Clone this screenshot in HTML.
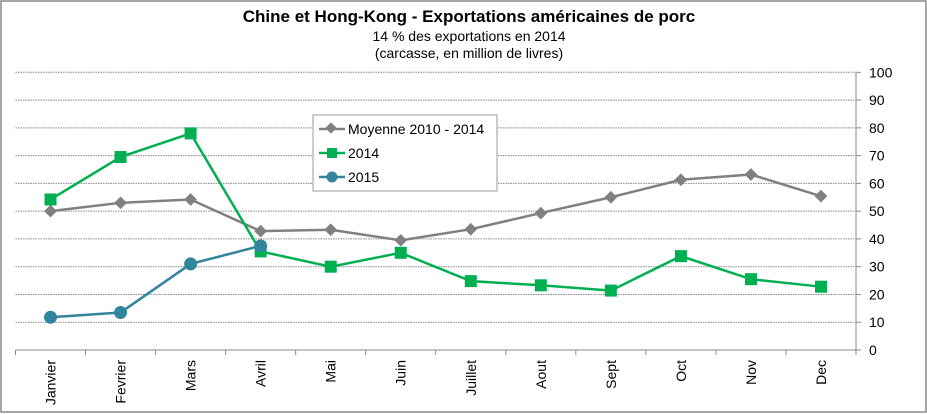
<!DOCTYPE html>
<html><head><meta charset="utf-8"><style>
body{margin:0;background:#fff;}
svg{display:block;font-family:"Liberation Sans",Arial,sans-serif;}
</style></head><body>
<svg id="chart" width="927" height="414" viewBox="0 0 927 414">
<rect x="1" y="1" width="925" height="411" fill="#fff" stroke="#888" stroke-width="1.5"/>
<text x="469" y="22" text-anchor="middle" font-size="17" font-weight="bold">Chine et Hong-Kong - Exportations américaines de porc</text>
<text x="469" y="41" text-anchor="middle" font-size="14">14 % des exportations en 2014</text>
<text x="469" y="58" text-anchor="middle" font-size="14">(carcasse, en million de livres)</text>
<g id="grid"></g><g id="axes"></g><g id="series"></g>
<g>
<rect x="313" y="115" width="184" height="76" fill="#fff" stroke="#999"/>
<line x1="319" y1="129" x2="345" y2="129" stroke="#808080" stroke-width="2.5"/><rect x="327" y="124" width="8" height="8" fill="#808080" transform="rotate(45 331 128)"/>
<text x="348" y="134" font-size="14">Moyenne 2010 - 2014</text>
<line x1="319" y1="153" x2="345" y2="153" stroke="#00b050" stroke-width="2.5"/><rect x="327" y="148" width="10" height="10" fill="#00b050"/>
<text x="348" y="158" font-size="14">2014</text>
<line x1="319" y1="177" x2="345" y2="177" stroke="#31859c" stroke-width="2.5"/><circle cx="332" cy="177" r="5.5" fill="#31859c"/>
<text x="348" y="182" font-size="14">2015</text>
</g>
</svg>
<script>
const categories=["Janvier","Fevrier","Mars","Avril","Mai","Juin","Juillet","Aout","Sept","Oct","Nov","Dec"];
const moyenne=[50,53,54.2,42.8,43.3,39.5,43.5,49.3,55,61.3,63.2,55.4];
const y2014=[54.2,69.5,78,35.5,30,35,24.8,23.3,21.4,33.8,25.5,22.8];
const y2015=[11.8,13.5,31,37.5];
const yTicks=[0,10,20,30,40,50,60,70,80,90,100];
const NS="http://www.w3.org/2000/svg";
const L=15.5,R=856,T=72.3,B=350;
const bw=(R-L)/categories.length;
const x=i=>L+bw*(i+0.5);
const y=v=>B-(v/100)*(B-T);
function mk(tag,attrs,parent){const e=document.createElementNS(NS,tag);for(const k in attrs)e.setAttribute(k,attrs[k]);parent.appendChild(e);return e;}
const grid=document.getElementById('grid'),axes=document.getElementById('axes'),ser=document.getElementById('series');
yTicks.forEach(t=>{
 if(t>0){const g=mk('line',{x1:L,x2:R,y1:y(t),y2:y(t),stroke:'#888','stroke-dasharray':'1.5 1','stroke-width':1},grid);
 
 }
 mk('line',{x1:R,x2:R+5,y1:y(t),y2:y(t),stroke:'#888'},axes);
 const tx=mk('text',{x:R+13,y:y(t)+5,'font-size':14},axes);tx.textContent=t;
 
 
});
mk('line',{x1:R,x2:R,y1:T,y2:B,stroke:'#888'},axes);
mk('line',{x1:L,x2:R,y1:B,y2:B,stroke:'#888'},axes);
for(let i=0;i<=categories.length;i++)mk('line',{x1:L+bw*i,x2:L+bw*i,y1:B,y2:B+5,stroke:'#888'},axes);
categories.forEach((c,i)=>{
 const t=mk('text',{x:0,y:0,'font-size':14,'text-anchor':'end',transform:`translate(${x(i)+5},${B+10}) rotate(-90)`},axes);
 t.textContent=c;
 
 
});
function line(vals,color,name,marker){
 const p=mk('polyline',{points:vals.map((v,i)=>x(i)+','+y(v)).join(' '),fill:'none',stroke:color,'stroke-width':2.5},ser);
 
 
 vals.forEach((v,i)=>{
  let m;
  if(marker==='d')m=mk('rect',{x:x(i)-4.5,y:y(v)-4.5,width:9,height:9,fill:color,transform:`rotate(45 ${x(i)} ${y(v)})`},ser);
  else if(marker==='s')m=mk('rect',{x:x(i)-6,y:y(v)-6,width:12,height:12,fill:color},ser);
  else m=mk('circle',{cx:x(i),cy:y(v),r:6.5,fill:color},ser);
  
  
 });
}
line(moyenne,'#808080','moyenne','d');
line(y2014,'#00b050','series-2014','s');
line(y2015,'#31859c','series-2015','c');
</script>
</body></html>
